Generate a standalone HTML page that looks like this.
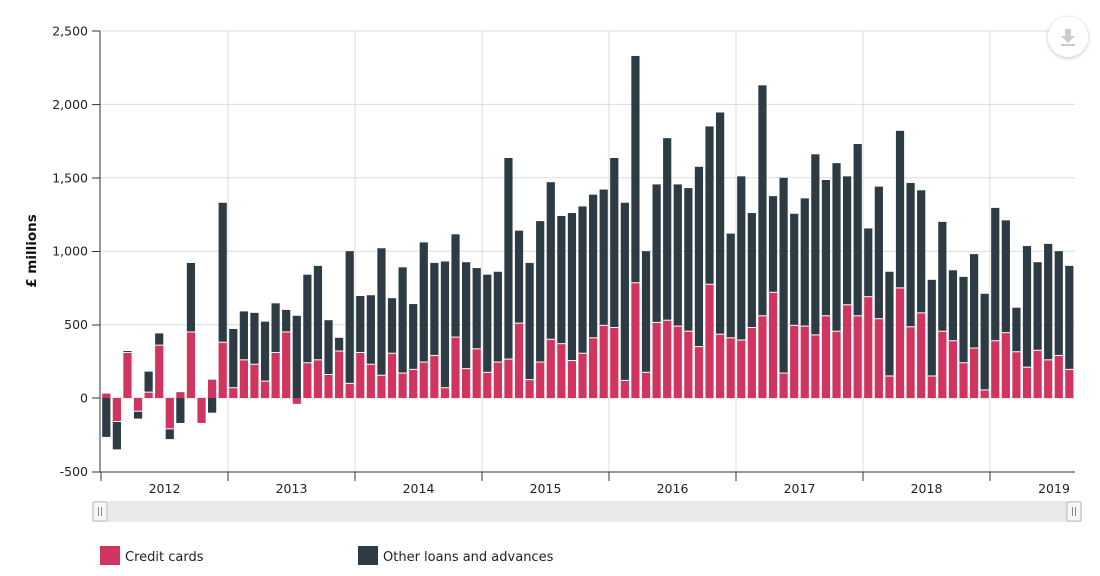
<!DOCTYPE html>
<html><head><meta charset="utf-8"><style>
html,body{margin:0;padding:0;background:#fff;}
svg{display:block;font-family:"DejaVu Sans","Liberation Sans",sans-serif;}
</style></head><body>
<svg id="s" width="1100" height="576" xmlns="http://www.w3.org/2000/svg"></svg>
<script>
var s=document.getElementById('s');
var h='';
function Y(v){return 398-v*0.1468;}
[2500,2000,1500,1000,500,0,-500].forEach(function(v){
 var y=Y(v).toFixed(1);
 if(v!==-500) h+='<line x1="100" x2="1075" y1="'+y+'" y2="'+y+'" stroke="#dcdcdc" stroke-width="1"/>';
 h+='<text x="88" y="'+(+y+4.5)+'" text-anchor="end" font-size="12.5" fill="#222">'+(v<0?'-500':v.toLocaleString('en-GB'))+'</text>';
});
var yrs=[2012,2013,2014,2015,2016,2017,2018,2019];
for(var i=1;i<8;i++){var x=101+i*127;h+='<line x1="'+x+'" x2="'+x+'" y1="31" y2="472" stroke="#dcdcdc"/>';}
var c12=[30,-160,310,-90,40,360,-210,40,450,-170,125,380],o12=[-265,-190,10,-50,140,80,-70,-170,470,0,-100,950];
var C=[70,260,230,115,310,450,-40,240,260,160,320,100,
310,230,155,305,170,195,245,290,70,415,200,335,
175,245,265,510,125,245,400,370,255,305,410,495,
480,120,785,175,515,530,490,455,350,775,435,410,
395,480,560,720,170,495,490,430,560,455,635,560,
690,540,150,750,485,580,150,455,390,240,340,55,
390,445,315,210,325,260,290,195];
var T=[470,590,580,520,645,600,560,840,900,530,410,1000,
695,700,1020,680,890,640,1060,920,930,1115,925,885,
840,860,1635,1140,920,1205,1470,1240,1260,1305,1385,1420,
1635,1330,2330,1000,1455,1770,1455,1430,1575,1850,1945,1120,
1510,1260,2130,1375,1500,1255,1360,1660,1485,1600,1510,1730,
1155,1440,860,1820,1465,1415,805,1200,870,825,980,710,
1295,1210,615,1035,925,1050,1000,900];
var cs=c12.slice(),os=o12.slice();
for(var i=0;i<C.length;i++){cs.push(C[i]);os.push(C[i]<0?T[i]:T[i]-C[i]);}
var red='#d0355f',dk='#2d3b44';
function rect(x,a,b,col){var y1=Y(Math.max(a,b)),y2=Y(Math.min(a,b));if(y2-y1<0.3)return;h+='<rect x="'+x.toFixed(2)+'" y="'+y1.toFixed(2)+'" width="8.2" height="'+(y2-y1).toFixed(2)+'" fill="'+col+'"/>';}
for(var i=0;i<cs.length;i++){
 var x=101+(i+0.5)*10.583-4.1,c=cs[i],o=os[i];
 var pos=0,neg=0;
 if(c>=0){rect(x,0,c,red);pos=c;}else{rect(x,0,c,red);neg=c;}
 if(o>=0){rect(x,pos,pos+o,dk);if(pos>0&&o>0)h+='<line x1="'+x.toFixed(2)+'" x2="'+(x+8.2).toFixed(2)+'" y1="'+Y(pos).toFixed(2)+'" y2="'+Y(pos).toFixed(2)+'" stroke="#fff" stroke-width="1"/>';}
 else{rect(x,neg,neg+o,dk);if(neg<0)h+='<line x1="'+x.toFixed(2)+'" x2="'+(x+8.2).toFixed(2)+'" y1="'+Y(neg).toFixed(2)+'" y2="'+Y(neg).toFixed(2)+'" stroke="#fff" stroke-width="1"/>';}
}
h+='<line x1="100" x2="100" y1="31" y2="472" stroke="#333"/>';
h+='<line x1="100" x2="1075" y1="472" y2="472" stroke="#333"/>';
for(var i=0;i<8;i++){var x=101+i*127;h+='<line x1="'+x+'" x2="'+x+'" y1="472" y2="481" stroke="#333"/>';}
for(var i=0;i<8;i++){var x=i<7?101+i*127+63.5:1054;h+='<text x="'+x+'" y="493" text-anchor="middle" font-size="12.5" fill="#222">'+yrs[i]+'</text>';}
[31,104.6,178,251.5,325,398,472].forEach(function(y){h+='<line x1="92" x2="100" y1="'+y+'" y2="'+y+'" stroke="#333"/>';});
h+='<text transform="translate(36,251) rotate(-90)" text-anchor="middle" font-size="13.5" font-weight="bold" fill="#111">£ millions</text>';
h+='<rect x="92" y="501" width="990" height="21" fill="#e9e9e9"/>';
[100,1074].forEach(function(x){h+='<rect x="'+(x-7)+'" y="502" width="14" height="19" rx="2" fill="#f7f7f7" stroke="#bbb"/><line x1="'+(x-1.5)+'" x2="'+(x-1.5)+'" y1="507" y2="516" stroke="#888"/><line x1="'+(x+1.5)+'" x2="'+(x+1.5)+'" y1="507" y2="516" stroke="#888"/>';});
h+='<rect x="100" y="546" width="20" height="19" fill="'+red+'"/><text x="125" y="561" font-size="13" fill="#222">Credit cards</text>';
h+='<rect x="358" y="546" width="20" height="19" fill="'+dk+'"/><text x="383" y="561" font-size="13" fill="#222">Other loans and advances</text>';
h+='<defs><filter id="sh" x="-50%" y="-50%" width="200%" height="200%"><feDropShadow dx="0" dy="1" stdDeviation="2" flood-color="#000" flood-opacity="0.25"/></filter></defs>';
h+='<circle cx="1068" cy="37" r="20" fill="#fff" filter="url(#sh)"/>';
h+='<rect x="1065" y="29" width="6" height="7" fill="#ccc"/><polygon points="1061,36 1075,36 1068,43" fill="#ccc"/><rect x="1061" y="44" width="14" height="2" fill="#ccc"/>';
s.innerHTML=h;
</script>
</body></html>
